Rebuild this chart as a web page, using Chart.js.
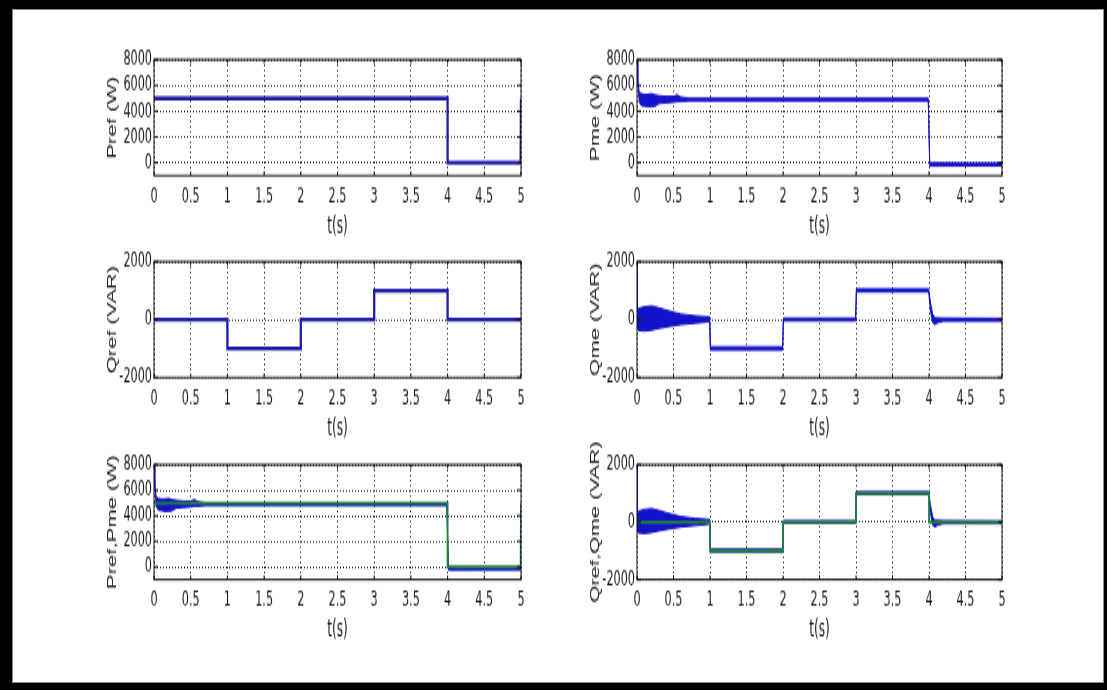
<!DOCTYPE html>
<html>
<head>
<meta charset="utf-8">
<script src="https://cdn.jsdelivr.net/npm/chart.js@4/dist/chart.umd.min.js"></script>
<style>
  html, body { margin: 0; padding: 0; background: #000; }
  #page { position: relative; width: 1107px; height: 690px; background: #000; overflow: hidden; }
  #sheet { position: absolute; left: 12px; top: 9px; width: 1092px; height: 674px; background: #fff; box-shadow: inset 0 0 0 1px #8c8c8c; }
  .panel { position: absolute; transform-origin: 0 0; }
  .panel canvas { display: block; }
</style>
</head>
<body>
<div id="page"><div id="sheet"></div></div>
<script>
// ---- axis ticks ----
const tTicks = [0, 0.5, 1, 1.5, 2, 2.5, 3, 3.5, 4, 4.5, 5];
const tTickLabels = ['0', '0.5', '1', '1.5', '2', '2.5', '3', '3.5', '4', '4.5', '5'];
const pTicks = [0, 2000, 4000, 6000, 8000];
const pTickLabels = ['0', '2000', '4000', '6000', '8000'];
const qTicks = [-2000, 0, 2000];
const qTickLabels = ['-2000', '0', '2000'];

// ---- active power reference (W) ----
const prefT = [0, 4, 4, 4.995, 5];
const prefW = [5000, 5000, 0, 0, 5000];

// ---- measured active power: upper / lower edge of the ripple band (W) ----
const pmeT    = [0,    0.01, 0.03, 0.06, 0.1,  0.15, 0.2,  0.25, 0.3,  0.4,  0.5,  0.55, 0.6,  0.7,  1.0,  2.0,  3.0,  3.99, 4.01, 4.05, 4.5,  5.0];
const pmeHigh = [8000, 6600, 5450, 5350, 5300, 5300, 5350, 5250, 5200, 5150, 5150, 5250, 5100, 5000, 5000, 5000, 5000, 5000, -30,  -20,  -30,  -30];
const pmeLow  = [8000, 6300, 4700, 4450, 4400, 4350, 4350, 4400, 4600, 4650, 4700, 4750, 4750, 4800, 4800, 4800, 4800, 4800, -250, -260, -250, -250];

// ---- reactive power reference (VAR) ----
const qrefT   = [0, 1, 1, 2, 2, 3, 3, 4, 4, 5];
const qrefVar = [0, 0, -1000, -1000, 0, 0, 1000, 1000, 0, 0];

// ---- measured reactive power: upper / lower edge of the ripple band (VAR) ----
const qmeT    = [0,    0.004, 0.02, 0.1,  0.2,  0.3,  0.45, 0.6,  0.8,  0.95, 0.995, 1.005, 1.5,   1.995, 2.005, 2.5, 2.995, 3.005, 3.5,  3.995, 4.02, 4.05, 4.08, 4.12, 4.2, 5.0];
const qmeHigh = [2000, 320,   380,  440,  470,  400,  290,  190,  130,  100,  90,    -940,  -940,  -940,  50,    50,  50,    1060,  1060, 1060,  600,  200,  60,   60,   50,  40];
const qmeLow  = [-300, -320,  -370, -390, -360, -300, -230, -170, -120, -80,  -60,   -1050, -1050, -1050, -40,   -40, -40,   960,   960,  960,   300,  -100, -170, -100, -50, -50];

const pts = (xs, ys) => xs.map((x, i) => ({ x, y: ys[i] }));

// ---- look ----
const INK = '#1a1a1a';
const GRID = '#2a2a2a';
const BLUE = '#1c1caa';
const BAND = '#1212c8';
const GREEN = '#22803a';
const NARROW = "'DejaVu Sans Condensed', 'Liberation Sans Narrow', 'DejaVu Sans', sans-serif";
const SANS = "'Liberation Sans', Arial, sans-serif";

// ---- panel geometry (page pixels); each panel is drawn flat then stretched vertically ----
const S = 1.7;
const PAD_TOP = 18;
const Y_W = 62;
const R_PAD = 12;
const colX = [[154, 521], [637, 1002]];
const rowY = [[60, 176], [262, 378], [465, 580]];

// box around the plot area with inward tick marks on all sides
const frame = {
  id: 'frame',
  afterDatasetsDraw(chart) {
    const { ctx, chartArea: a, scales: { x, y } } = chart;
    ctx.save();
    ctx.strokeStyle = '#111';
    ctx.lineWidth = 1;
    ctx.strokeRect(a.left, a.top, a.right - a.left, a.bottom - a.top);
    ctx.beginPath();
    x.ticks.forEach(t => {
      const px = x.getPixelForValue(t.value);
      ctx.moveTo(px, a.bottom); ctx.lineTo(px, a.bottom - 2.5);
      ctx.moveTo(px, a.top); ctx.lineTo(px, a.top + 2.5);
    });
    y.ticks.forEach(t => {
      const py = y.getPixelForValue(t.value);
      ctx.moveTo(a.left, py); ctx.lineTo(a.left + 4, py);
      ctx.moveTo(a.right, py); ctx.lineTo(a.right - 4, py);
    });
    ctx.stroke();
    ctx.restore();
  }
};

function lineSet(xs, ys, color, width) {
  return { data: pts(xs, ys), borderColor: color, borderWidth: width, fill: false, pointRadius: 0 };
}
function bandSets(xs, hi, lo, color) {
  return [
    { data: pts(xs, hi), borderColor: color, borderWidth: 1, backgroundColor: color, fill: '+1', pointRadius: 0 },
    { data: pts(xs, lo), borderColor: color, borderWidth: 1, fill: false, pointRadius: 0 }
  ];
}

function panel(col, row, datasets, yMin, yMax, yTicks, yLabels, yTitle) {
  const [l, r] = colX[col];
  const [t, b] = rowY[row];
  const plotH = (b - t) / S;
  const cw = (r - l) + Y_W + R_PAD;
  const ch = Math.ceil(PAD_TOP + plotH + 44);
  const xH = ch - PAD_TOP - plotH;

  const wrap = document.createElement('div');
  wrap.className = 'panel';
  wrap.style.left = (l - Y_W) + 'px';
  wrap.style.top = (t - PAD_TOP * S) + 'px';
  wrap.style.width = cw + 'px';
  wrap.style.height = ch + 'px';
  wrap.style.transform = 'scaleY(' + S + ')';
  const cv = document.createElement('canvas');
  cv.width = cw;
  cv.height = ch;
  cv.style.width = cw + 'px';
  cv.style.height = ch + 'px';
  wrap.appendChild(cv);
  document.getElementById('page').appendChild(wrap);

  const tickFont = { family: NARROW, size: 12.5 };
  const xTitleFont = { family: NARROW, size: 13.5 };
  const yTitleFont = { family: SANS, size: 13 };

  new Chart(cv, {
    type: 'line',
    data: { datasets },
    options: {
      responsive: false,
      animation: false,
      devicePixelRatio: 1,
      layout: { padding: { top: PAD_TOP, right: R_PAD, left: 0, bottom: 0 } },
      plugins: { legend: { display: false }, tooltip: { enabled: false } },
      elements: { point: { radius: 0 }, line: { tension: 0 } },
      scales: {
        x: {
          type: 'linear', min: 0, max: 5,
          afterBuildTicks: s => { s.ticks = tTicks.map(v => ({ value: v })); },
          afterFit: s => { s.height = xH; },
          ticks: { autoSkip: false, maxRotation: 0, padding: 5, color: INK, font: tickFont,
                   callback: v => tTickLabels[tTicks.indexOf(v)] },
          grid: { color: GRID, lineWidth: 1, drawTicks: false },
          border: { display: false, dash: [1, 2] },
          title: { display: true, text: 't(s)', color: INK, font: xTitleFont,
                   padding: { top: 0, bottom: xH - 30 - 8.1 } }
        },
        y: {
          type: 'linear', min: yMin, max: yMax,
          afterBuildTicks: s => { s.ticks = yTicks.map(v => ({ value: v })); },
          afterFit: s => { s.width = Y_W; },
          ticks: { autoSkip: false, padding: 2, color: INK, font: tickFont,
                   callback: v => yLabels[yTicks.indexOf(v)] },
          grid: { color: GRID, lineWidth: 1, drawTicks: false },
          border: { display: false, dash: [1, 2] },
          title: { display: true, text: yTitle, color: INK, font: yTitleFont,
                   padding: { top: 13, bottom: 0 } }
        }
      }
    },
    plugins: [frame]
  });
}

// top row: active power
panel(0, 0, [lineSet(prefT, prefW, BLUE, 2.3)], -1000, 8000, pTicks, pTickLabels, 'Pref (W)');
panel(1, 0, bandSets(pmeT, pmeHigh, pmeLow, BAND), -1000, 8000, pTicks, pTickLabels, 'Pme (W)');
// middle row: reactive power
panel(0, 1, [lineSet(qrefT, qrefVar, BLUE, 2.3)], -2000, 2000, qTicks, qTickLabels, 'Qref (VAR)');
panel(1, 1, bandSets(qmeT, qmeHigh, qmeLow, BAND), -2000, 2000, qTicks, qTickLabels, 'Qme (VAR)');
// bottom row: reference over measurement
panel(0, 2, [lineSet(prefT, prefW, GREEN, 1.8)].concat(bandSets(pmeT, pmeHigh, pmeLow, BAND)),
      -1000, 8000, pTicks, pTickLabels, 'Pref,Pme (W)');
panel(1, 2, [lineSet(qrefT, qrefVar, GREEN, 1.8)].concat(bandSets(qmeT, qmeHigh, qmeLow, BAND)),
      -2000, 2000, qTicks, qTickLabels, 'Qref,Qme (VAR)');
</script>
</body>
</html>
